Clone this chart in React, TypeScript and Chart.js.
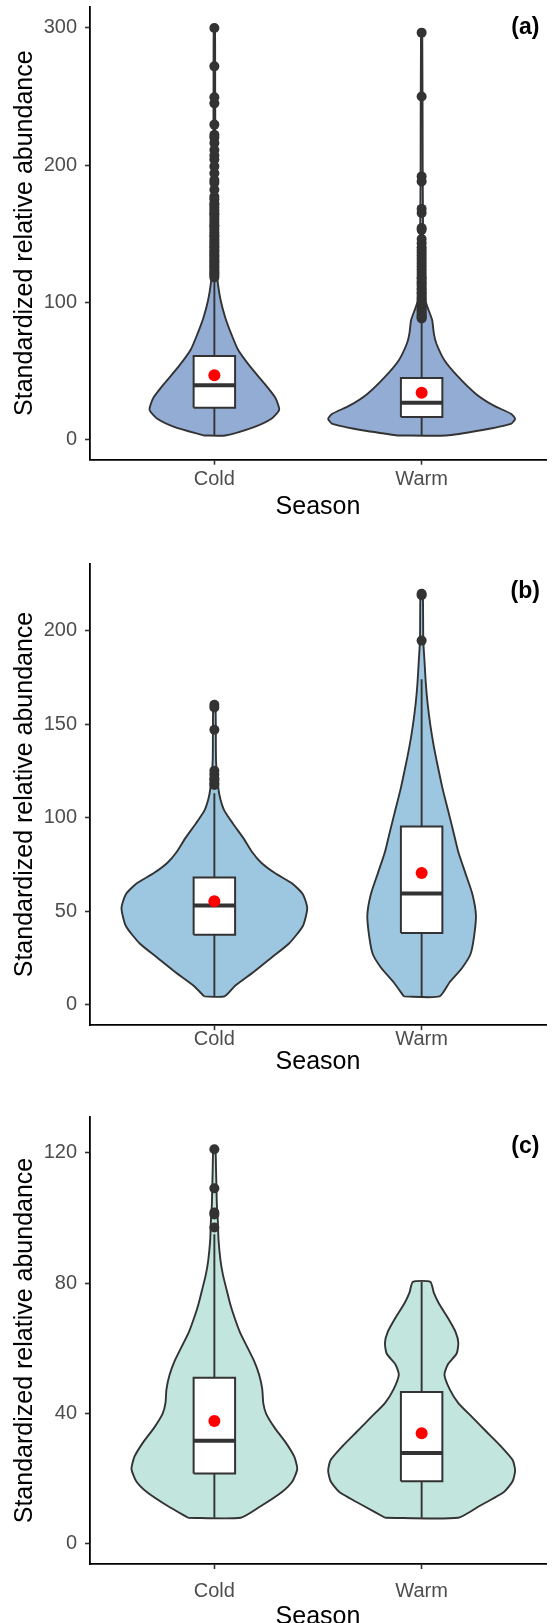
import React, { useEffect, useRef } from "react";
import { Chart, registerables } from "chart.js";

Chart.register(...registerables);

const FONT = '"Liberation Sans", Arial, Helvetica, sans-serif';
const seasons = ["Cold", "Warm"];

// ---------- Panel (a) ----------
const aYTicks = [0, 100, 200, 300];
const aColdY = [2.7, 8.8, 14.9, 21, 24.6, 30.7, 40.5, 52.7, 65, 77, 89, 101.5, 113.7, 126, 150, 200, 250, 300];
const aColdW = [0.052, 0.191, 0.275, 0.312, 0.309, 0.292, 0.242, 0.174, 0.115, 0.081, 0.052, 0.03, 0.017, 0.01, 0.007, 0.005, 0.004, 0.003];
const aWarmY = [2.7, 6.3, 11.2, 14.9, 18.5, 24.6, 33, 45.4, 57.6, 69.8, 77, 86.8, 94, 101.5, 115, 150, 200, 296.6];
const aWarmW = [0.118, 0.279, 0.431, 0.451, 0.431, 0.346, 0.262, 0.177, 0.11, 0.071, 0.059, 0.051, 0.034, 0.017, 0.01, 0.007, 0.005, 0.003];
const aColdStats = [2.7, 22.9, 39.3, 60.7, 117];
const aWarmStats = [2.7, 16.1, 26.6, 44.6, 87];
const aMeans = [46.6, 33.9];
const aColdOutliers = [118, 119.5, 121, 122, 123.5, 125, 126, 127.5, 129, 130, 131.5, 133, 134, 135.5, 137, 138, 140, 141, 143, 144.5, 146, 148, 149, 151, 153, 155, 156, 158, 160, 162, 164, 165, 167, 169, 171, 172, 175, 177, 182, 187, 189, 194, 199, 204, 207, 211, 216, 220, 222, 229.5, 245, 249.5, 272, 300];
const aWarmOutliers = [88, 89, 90, 91, 92.5, 94, 95, 96.5, 98, 99, 100.5, 102, 103, 104.5, 106, 107, 109, 110, 112, 113.5, 115, 117, 118, 120, 122, 124, 126, 128, 130, 132, 134, 136, 138, 140, 143, 146, 152.7, 154, 165, 168, 188, 191.7, 250, 296.6];

// ---------- Panel (b) ----------
const bYTicks = [0, 50, 100, 150, 200];
const bColdY = [4.3, 10, 17.5, 25, 32.6, 42, 51.5, 59, 64.6, 70.3, 76, 81.6, 89, 96.7, 104, 111.8, 121, 130.6, 145.7, 160.8];
const bColdW = [0.049, 0.1, 0.191, 0.275, 0.36, 0.427, 0.448, 0.427, 0.377, 0.292, 0.225, 0.182, 0.14, 0.09, 0.047, 0.025, 0.014, 0.008, 0.007, 0.005];
const bWarmY = [4.3, 11.9, 19.4, 27, 36.4, 47.7, 59, 70.3, 81.6, 93, 104, 115.5, 126.9, 138, 149.5, 160.8, 172, 183.4, 194.7, 209.8, 219.8];
const bWarmW = [0.086, 0.135, 0.194, 0.236, 0.253, 0.262, 0.245, 0.211, 0.177, 0.152, 0.127, 0.101, 0.079, 0.059, 0.042, 0.029, 0.02, 0.014, 0.008, 0.007, 0.005];
const bColdStats = [4.3, 37.3, 53, 67.9, 113];
const bWarmStats = [4.3, 38.3, 59.4, 95.2, 174];
const bMeans = [55.2, 70.3];
const bColdOutliers = [117.4, 118.4, 120, 121, 123, 125, 147, 158.9, 160.4];
const bWarmOutliers = [194.7, 219, 219.8];

// ---------- Panel (c) ----------
const cYTicks = [0, 40, 80, 120];
const cColdY = [8, 11.6, 15.9, 19.2, 23, 26.8, 31.2, 35.5, 39.9, 43.2, 47.5, 51.9, 56.2, 60.6, 65, 69.3, 73.7, 78, 82.4, 86.8, 93.3, 98.7, 104.2, 109.6, 115, 121.1];
const cColdW = [0.127, 0.225, 0.326, 0.377, 0.4, 0.385, 0.343, 0.292, 0.25, 0.236, 0.231, 0.216, 0.191, 0.157, 0.123, 0.098, 0.076, 0.059, 0.042, 0.03, 0.02, 0.017, 0.012, 0.01, 0.008, 0.005];
const cWarmY = [8, 11.6, 15.9, 19.2, 22.5, 25.7, 30.1, 34.4, 38.8, 43.2, 47.5, 51.9, 55.1, 58.4, 61.7, 65, 69.3, 73.7, 77, 80.4];
const cWarmW = [0.176, 0.279, 0.397, 0.439, 0.451, 0.439, 0.38, 0.313, 0.245, 0.177, 0.135, 0.11, 0.127, 0.169, 0.177, 0.164, 0.127, 0.084, 0.059, 0.042];
const cColdStats = [8, 21.6, 31.6, 51, 95];
const cWarmStats = [8, 19.2, 27.9, 46.6, 80.4];
const cMeans = [37.7, 33.9];
const cColdOutliers = [97.1, 101.1, 101.7, 109.1, 121.1];
const cWarmOutliers: number[] = [];

type Group = { vy: number[]; vw: number[]; stats: number[]; mean: number; outliers: number[] };
type PanelCfg = {
  label: string;
  labelY: number;
  fill: string;
  yMin: number;
  yMax: number;
  yTicks: number[];
  groups: Group[];
  top: number;
  height: number;
  areaTop: number;
  areaBottom: number;
  xTickPad: number;
  titlePadBottom: number;
};

const panels: PanelCfg[] = [
  {
    label: "(a)", labelY: 300, fill: "#93ACD4", yMin: -15, yMax: 315.6, yTicks: aYTicks,
    groups: [
      { vy: aColdY, vw: aColdW, stats: aColdStats, mean: aMeans[0], outliers: aColdOutliers },
      { vy: aWarmY, vw: aWarmW, stats: aWarmStats, mean: aMeans[1], outliers: aWarmOutliers },
    ],
    top: 0, height: 540, areaTop: 6.6, areaBottom: 459.7, xTickPad: 2.5, titlePadBottom: 18,
  },
  {
    label: "(b)", labelY: 221, fill: "#9DC7E0", yMin: -11.1, yMax: 235.8, yTicks: bYTicks,
    groups: [
      { vy: bColdY, vw: bColdW, stats: bColdStats, mean: bMeans[0], outliers: bColdOutliers },
      { vy: bWarmY, vw: bWarmW, stats: bWarmStats, mean: bMeans[1], outliers: bWarmOutliers },
    ],
    top: 540, height: 545, areaTop: 23.8, areaBottom: 485.2, xTickPad: -2.5, titlePadBottom: 8,
  },
  {
    label: "(c)", labelY: 122, fill: "#C2E5DD", yMin: -6.2, yMax: 131, yTicks: cYTicks,
    groups: [
      { vy: cColdY, vw: cColdW, stats: cColdStats, mean: cMeans[0], outliers: cColdOutliers },
      { vy: cWarmY, vw: cWarmW, stats: cWarmStats, mean: cMeans[1], outliers: cWarmOutliers },
    ],
    top: 1085, height: 538, areaTop: 32, areaBottom: 479, xTickPad: 10, titlePadBottom: -9,
  },
];

const INK = "#333333";

function buildDatasets(p: PanelCfg) {
  const ds: any[] = [];
  p.groups.forEach((g, i) => {
    const cx = i + 1;
    const left = g.vy.map((y, k) => ({ x: cx - g.vw[k], y }));
    const right = g.vy.map((y, k) => ({ x: cx + g.vw[k], y })).reverse();
    const outline = [...left, ...right, left[0]];
    ds.push({
      data: outline, showLine: true, fill: "shape", backgroundColor: p.fill,
      borderColor: INK, borderWidth: 1.9, pointRadius: 0, tension: 0.2, order: 6,
    });
    const [mn, q1, md, q3, wt] = g.stats;
    ds.push({
      data: [{ x: cx, y: mn }, { x: cx, y: wt }], showLine: true, fill: false,
      borderColor: INK, borderWidth: 1.9, pointRadius: 0, order: 5,
    });
    const bw = 0.1;
    ds.push({
      data: [
        { x: cx - bw, y: q1 }, { x: cx - bw, y: q3 }, { x: cx + bw, y: q3 },
        { x: cx + bw, y: q1 }, { x: cx - bw, y: q1 },
      ],
      showLine: true, fill: "shape", backgroundColor: "#ffffff", borderColor: INK,
      borderWidth: 2, pointRadius: 0, order: 4, borderJoinStyle: "miter",
    });
    ds.push({
      data: [{ x: cx - bw, y: md }, { x: cx + bw, y: md }], showLine: true, fill: false,
      borderColor: INK, borderWidth: 4, pointRadius: 0, order: 3, borderCapStyle: "butt",
    });
    ds.push({
      data: g.outliers.map((y) => ({ x: cx, y })), showLine: false,
      pointRadius: 5, backgroundColor: INK, borderWidth: 0, order: 2,
    });
    ds.push({
      data: [{ x: cx, y: g.mean }], showLine: false,
      pointRadius: 6, backgroundColor: "#FF0000", borderWidth: 0, order: 1,
    });
  });
  return ds;
}

const panelLabelPlugin = {
  id: "panelLabel",
  afterDraw(chart: any, _args: any, opts: any) {
    const ctx = chart.ctx;
    const xs = chart.scales.x;
    const ys = chart.scales.y;
    ctx.save();
    ctx.font = `bold 23px ${FONT}`;
    ctx.fillStyle = "#000";
    ctx.textAlign = "center";
    ctx.textBaseline = "middle";
    ctx.fillText(opts.text, xs.getPixelForValue(opts.x), ys.getPixelForValue(opts.y));
    ctx.restore();
  },
};

function Panel({ cfg }: { cfg: PanelCfg }) {
  const ref = useRef<HTMLCanvasElement>(null);
  useEffect(() => {
    const canvas = ref.current!;
    const chart = new Chart(canvas, {
      type: "scatter",
      data: { datasets: buildDatasets(cfg) },
      options: {
        responsive: false,
        maintainAspectRatio: false,
        animation: false,
        devicePixelRatio: 1,
        events: [],
        layout: { padding: { top: cfg.areaTop, right: 1, bottom: 0, left: 0 } },
        plugins: {
          legend: { display: false },
          tooltip: { enabled: false },
          panelLabel: { text: cfg.label, x: 2.5, y: cfg.labelY },
        } as any,
        scales: {
          x: {
            type: "linear",
            min: 0.4,
            max: 2.6,
            afterBuildTicks: (s: any) => {
              s.ticks = seasons.map((_, i) => ({ value: i + 1 }));
            },
            afterFit: (s: any) => {
              s.height = cfg.height - cfg.areaBottom;
              s.paddingLeft = 0;
              s.paddingRight = 0;
            },
            ticks: {
              callback: (v: any) => seasons[Math.round(Number(v)) - 1] ?? "",
              font: { family: FONT, size: 20 },
              color: "#4D4D4D",
              padding: cfg.xTickPad,
              maxRotation: 0,
              autoSkip: false,
            },
            grid: {
              display: true, drawOnChartArea: false, drawTicks: true,
              tickLength: 5, tickColor: INK, tickWidth: 1.6,
            },
            border: { display: true, color: "#000", width: 1.8 },
            title: {
              display: true, text: "Season", color: "#000",
              font: { family: FONT, size: 25 },
              padding: { top: 0, bottom: cfg.titlePadBottom },
            },
          },
          y: {
            type: "linear",
            min: cfg.yMin,
            max: cfg.yMax,
            afterBuildTicks: (s: any) => {
              s.ticks = cfg.yTicks.map((v) => ({ value: v }));
            },
            afterFit: (s: any) => {
              s.width = 90;
              s.paddingTop = 0;
              s.paddingBottom = 0;
            },
            ticks: {
              callback: (v: any) => String(v),
              font: { family: FONT, size: 20 },
              color: "#4D4D4D",
              padding: 8,
              autoSkip: false,
            },
            grid: {
              display: true, drawOnChartArea: false, drawTicks: true,
              tickLength: 5, tickColor: INK, tickWidth: 1.6,
            },
            border: { display: true, color: "#000", width: 1.8 },
            title: {
              display: true, text: "Standardized relative abundance", color: "#000",
              font: { family: FONT, size: 25 },
              padding: { top: 10, bottom: 0 },
            },
          },
        },
      } as any,
      plugins: [panelLabelPlugin as any],
    });
    return () => chart.destroy();
  }, [cfg]);
  return (
    <canvas
      ref={ref}
      width={552}
      height={cfg.height}
      style={{ position: "absolute", left: 0, top: cfg.top, width: 552, height: cfg.height, display: "block" }}
    />
  );
}

export default function App() {
  return (
    <div style={{ position: "absolute", left: 0, top: 0, width: 552, height: 1623, background: "#ffffff", overflow: "hidden" }}>
      {panels.map((p) => (
        <Panel key={p.label} cfg={p} />
      ))}
    </div>
  );
}
